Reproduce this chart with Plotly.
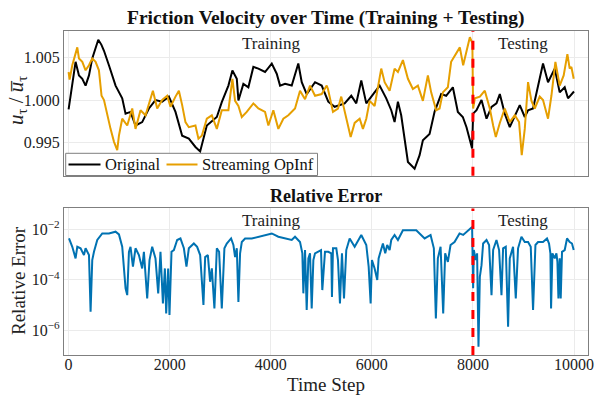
import plotly.graph_objects as go
from plotly.subplots import make_subplots

# ---------------- data ----------------
orig_steps = [0, 60, 138, 205, 271, 336, 403, 468, 587, 650, 700, 798, 929, 1061, 1127, 1225, 1324, 1456,
              1589, 1719, 1852, 1984, 2115, 2247, 2379, 2510, 2603, 2735, 2933, 3031, 3162, 3241, 3328, 3360,
              3458, 3557, 3656, 3755, 3887, 4020, 4118, 4184, 4283, 4415, 4545, 4613, 4711, 4876, 5008, 5138,
              5265, 5462, 5593, 5692, 5791, 5890, 5988, 6154, 6285, 6384, 6450, 6516, 6581, 6648, 6714, 6846,
              6945, 7010, 7142, 7241, 7372, 7470, 7603, 7702, 7800, 7873, 7984, 8004, 8071, 8170, 8269, 8368,
              8466, 8532, 8630, 8729, 8828, 8927, 9026, 9091, 9190, 9289, 9387, 9486, 9619, 9717, 9816, 9881,
              9980, 10000]
orig_vals = [0.9989, 1.0012, 1.0045, 1.0029, 1.0025, 1.0017, 1.0029, 1.0049, 1.0071, 1.0065, 1.0058, 1.0041,
             1.0017, 1.0002, 0.9984, 0.9986, 0.9970, 0.9974, 0.9990, 1.0000, 0.9998, 1.0004, 0.9986, 0.9958,
             0.99545, 0.99447, 0.99395, 0.9970, 0.9980, 0.99976, 1.0017, 1.00348, 1.0025, 0.99995, 1.0019,
             1.0015, 1.0039, 1.0037, 1.0033, 1.0043, 1.0031, 1.0017, 1.0019, 1.0017, 1.0043, 1.0021, 1.0007,
             1.0021, 1.0017, 0.9998, 0.9992, 0.9996, 1.0005, 0.9996, 1.0023, 0.9996, 1.0004, 1.0017, 1.0002,
             0.9988, 0.9974, 0.9998, 0.9982, 0.99545, 0.9927, 0.9919, 0.9935, 0.99525, 0.9960, 0.9986, 1.0007,
             1.0005, 1.0015, 0.9986, 0.9980, 0.9968, 0.9943, 0.9984, 0.9988, 1.0000, 0.9978, 0.9992, 0.9996,
             1.0007, 0.9984, 0.9968, 0.9982, 0.9994, 0.9980, 0.9988, 0.9990, 1.0017, 1.0043, 1.0021, 1.0037,
             1.0009, 1.0015, 1.0002, 1.0009, 1.0010]

opinf_steps = [0, 20, 73, 138, 172, 205, 271, 336, 403, 468, 534, 600, 652, 700, 765, 830, 897, 962, 996,
               1061, 1160, 1259, 1324, 1423, 1522, 1621, 1668, 1753, 1852, 1951, 2016, 2115, 2182, 2247, 2312,
               2379, 2510, 2569, 2636, 2735, 2834, 2933, 3031, 3162, 3241, 3294, 3360, 3427, 3525, 3656, 3755,
               3887, 3953, 4051, 4150, 4249, 4348, 4480, 4579, 4678, 4777, 4876, 5008, 5107, 5132, 5231, 5330,
               5395, 5494, 5581, 5660, 5759, 5824, 5890, 5957, 6055, 6186, 6253, 6352, 6450, 6516, 6615, 6714,
               6812, 6911, 7010, 7109, 7174, 7273, 7340, 7405, 7504, 7569, 7668, 7741, 7807, 7873, 7939, 7989,
               8004, 8038, 8137, 8235, 8334, 8400, 8453, 8532, 8630, 8729, 8828, 8913, 8966, 9026, 9091, 9158,
               9223, 9322, 9387, 9486, 9553, 9632, 9717, 9796, 9869, 9915, 9948, 9994]
opinf_vals = [1.0033, 1.0024, 1.0041, 1.0054, 1.0062, 1.0049, 1.0045, 1.0035, 1.0041, 1.0049, 1.0045, 1.0035,
              1.0005, 1.0000, 0.9982, 0.9966, 0.9951, 0.9941, 0.9958, 0.9978, 0.9970, 0.9990, 0.9966, 0.9988,
              0.9982, 1.0000, 1.0011, 0.9990, 1.0000, 1.0005, 0.9992, 1.0004, 1.0011, 0.9994, 0.9974, 0.9968,
              0.9970, 0.99545, 0.9958, 0.9978, 0.9982, 0.9966, 0.9988, 0.9988, 1.0025, 0.9999, 0.9993, 0.9980,
              0.9986, 0.9996, 0.9990, 0.9986, 0.9970, 0.9988, 0.9966, 0.9978, 0.9982, 0.9990, 1.0011, 1.0001,
              1.0017, 1.0005, 1.0007, 1.0017, 1.0013, 0.9986, 0.9990, 1.0004, 0.9978, 0.99565, 0.9973, 0.9978,
              0.9966, 0.9978, 0.9999, 0.9993, 1.0037, 1.0021, 1.0011, 1.0037, 1.0033, 1.0047, 1.0025, 1.0013,
              1.0017, 0.9999, 1.0029, 1.0009, 0.9988, 0.9990, 1.0009, 1.0015, 1.0045, 1.0054, 1.0062, 1.0041,
              1.0057, 1.0074, 1.0067, 0.9990, 1.0002, 1.0004, 1.0011, 0.9990, 0.9970, 0.99565, 0.9973, 0.9990,
              0.9974, 0.9982, 0.9974, 0.9935, 0.9966, 1.0021, 0.9999, 0.9990, 1.0004, 1.0000, 0.9978, 1.0005,
              1.0045, 1.0017, 1.0029, 1.0054, 1.0037, 1.0039, 1.0025]

err_steps = [8, 73, 138, 172, 237, 304, 336, 403, 435, 468, 502, 567, 666, 798, 929, 996, 1061, 1127, 1160,
             1194, 1225, 1273, 1324, 1391, 1456, 1490, 1555, 1601, 1654, 1719, 1773, 1818, 1866, 1905, 1931,
             1970, 1996, 2036, 2083, 2148, 2213, 2281, 2332, 2379, 2478, 2543, 2603, 2668, 2702, 2755, 2800,
             2834, 2885, 2933, 2978, 3031, 3083, 3130, 3215, 3261, 3294, 3328, 3360, 3393, 3427, 3492, 3625,
             3755, 3887, 4020, 4150, 4283, 4415, 4480, 4579, 4625, 4645, 4678, 4711, 4744, 4777, 4810, 4843,
             4876, 4941, 4994, 5020, 5073, 5138, 5198, 5211, 5231, 5297, 5330, 5369, 5409, 5449, 5494, 5561,
             5660, 5791, 5890, 5937, 5976, 6002, 6055, 6107, 6134, 6219, 6265, 6304, 6352, 6384, 6450, 6516,
             6615, 6714, 6879, 7045, 7162, 7227, 7267, 7306, 7360, 7412, 7451, 7504, 7557, 7636, 7735, 7807,
             7906, 7984, 8004, 8018, 8057, 8083, 8110, 8137, 8170, 8202, 8269, 8320, 8368, 8400, 8466, 8518,
             8565, 8597, 8650, 8696, 8729, 8794, 8848, 8893, 8960, 9026, 9091, 9144, 9190, 9237, 9289, 9387,
             9466, 9506, 9533, 9546, 9573, 9619, 9652, 9672, 9692, 9717, 9737, 9763, 9816, 9862, 9915, 9960,
             9994]
err_exp = [-2.36, -2.69, -3.15, -2.69, -2.75, -3.02, -2.75, -3.02, -5.27, -3.22, -2.89, -2.42, -2.16, -2.16,
           -2.09, -2.2, -2.69, -4.34, -4.61, -2.89, -2.69, -3.48, -2.75, -3.02, -3.55, -2.89, -4.74, -3.22,
           -2.69, -3.15, -4.54, -2.89, -4.94, -3.55, -5.34, -3.55, -5.4, -2.89, -2.82, -2.42, -2.36, -2.75,
           -3.48, -2.75, -2.56, -2.69, -3.02, -5.0, -3.1, -3.02, -4.08, -3.55, -5.14, -2.75, -2.89, -5.14,
           -2.75, -2.56, -2.36, -2.62, -3.1, -2.75, -4.88, -2.95, -2.5, -2.36, -2.36, -2.29, -2.22, -2.16,
           -2.29, -2.36, -2.42, -2.29, -2.5, -2.95, -4.54, -2.82, -5.2, -3.15, -2.95, -5.14, -3.22, -2.95,
           -2.89, -2.82, -4.41, -2.89, -2.89, -2.95, -4.68, -2.75, -2.75, -3.22, -4.94, -2.95, -4.74, -2.82,
           -2.36, -2.69, -2.22, -2.62, -3.48, -4.94, -3.22, -3.55, -4.01, -3.15, -2.56, -2.95, -2.62, -2.82,
           -2.42, -2.22, -2.42, -2.03, -2.03, -2.03, -2.36, -2.22, -2.75, -5.54, -3.15, -2.69, -5.34, -2.95,
           -3.29, -2.62, -2.5, -2.16, -2.22, -2.03, -1.9, -4.34, -2.82, -3.22, -2.95, -6.66, -3.88, -3.42,
           -2.56, -2.42, -2.62, -4.61, -2.82, -2.42, -2.82, -4.61, -2.75, -2.69, -5.87, -3.15, -2.69, -4.74,
           -2.75, -2.29, -2.5, -2.5, -2.69, -5.2, -2.62, -2.5, -2.5, -2.36, -2.56, -2.95, -5.14, -2.95, -3.15,
           -2.95, -3.29, -4.74, -3.15, -4.74, -2.89, -2.82, -2.36, -2.5, -2.56, -2.82]
err_vals = [10 ** e for e in err_exp]

split_step = 8000
x_ticks = [0, 2000, 4000, 6000, 8000, 10000]
x_tick_text = ["0", "2000", "4000", "6000", "8000", "10000"]
top_ticks = [0.995, 1.000, 1.005]
top_tick_text = ["0.995", "1.000", "1.005"]
err_ticks = [1e-6, 1e-4, 1e-2]
err_tick_text = ["10<sup>−6</sup>", "10<sup>−4</sup>", "10<sup>−2</sup>"]
series_names = ["Original", "Streaming OpInf"]

# ---------------- figure ----------------
FONT = "Liberation Serif"
BLACK = "#000000"
ORANGE = "#E69F00"
BLUE = "#0072B2"
RED = "#FF0000"
GRID = "#ebebeb"
FRAME = "#7f7f7f"
TXT = "#222222"

L, R, T, B, W, H = 64, 7, 31, 42, 595, 397
pw, ph = W - L - R, H - T - B


def px_x(v):
    return (v - L) / pw


def px_y(v):
    return (H - B - v) / ph


fig = make_subplots(rows=2, cols=1, shared_xaxes=False, vertical_spacing=0.1)

fig.add_trace(go.Scatter(x=orig_steps, y=orig_vals, mode="lines", name=series_names[0],
                         line=dict(color=BLACK, width=2), showlegend=False), row=1, col=1)
fig.add_trace(go.Scatter(x=opinf_steps, y=opinf_vals, mode="lines", name=series_names[1],
                         line=dict(color=ORANGE, width=2), showlegend=False), row=1, col=1)
fig.add_trace(go.Scatter(x=err_steps, y=err_vals, mode="lines", name="Relative Error",
                         line=dict(color=BLUE, width=2), showlegend=False), row=2, col=1)

top_dom = [0.553, 1.0]
bot_dom = [0.0, 0.4524]

axis_common = dict(showline=True, mirror=True, linecolor=FRAME, linewidth=1.2, automargin=False,
                   showgrid=True, gridcolor=GRID, gridwidth=1, zeroline=False, ticks="",
                   ticklabeloverflow="allow", tickfont=dict(family=FONT, size=16, color=TXT))

fig.update_xaxes(range=[-91, 10277], tickvals=x_ticks, showticklabels=False,
                 domain=[0, 1], **axis_common, row=1, col=1)
fig.update_xaxes(range=[-91, 10277], tickvals=x_ticks, ticktext=x_tick_text, domain=[0, 1],
                 ticklabelstandoff=-5, **axis_common, row=2, col=1)
fig.update_yaxes(range=[0.99107, 1.00813], tickvals=top_ticks, ticktext=top_tick_text,
                 domain=top_dom, **axis_common, row=1, col=1)
fig.update_yaxes(type="log", range=[-6.99, -1.166], tickvals=err_ticks, ticktext=err_tick_text,
                 domain=bot_dom, **axis_common, row=2, col=1)

# split line
for r in (1, 2):
    fig.add_vline(x=split_step, line=dict(color=RED, width=3, dash="dash"), row=r, col=1)

# region labels
for xref, yref in (("x", "y domain"), ("x2", "y2 domain")):
    fig.add_annotation(x=4000, y=0.915, xref=xref, yref=yref, text="Training", showarrow=False,
                       yanchor="middle", font=dict(family=FONT, size=17, color=TXT))
    fig.add_annotation(x=9000, y=0.915, xref=xref, yref=yref, text="Testing", showarrow=False,
                       yanchor="middle", font=dict(family=FONT, size=17, color=TXT))

# subplot titles
fig.add_annotation(x=0.5, y=1.0, xref="paper", yref="paper", yanchor="bottom", yshift=0,
                   text="<b>Friction Velocity over Time (Training + Testing)</b>", showarrow=False,
                   font=dict(family=FONT, size=19.5, color="#111"))
fig.add_annotation(x=0.5, y=bot_dom[1], xref="paper", yref="paper", yanchor="bottom", yshift=0,
                   text="<b>Relative Error</b>", showarrow=False,
                   font=dict(family=FONT, size=18, color="#111"))

# axis titles placed as annotations
fig.add_annotation(x=px_x(17), y=px_y(101), xref="paper", yref="paper", showarrow=False, textangle=-90,
                   xanchor="center", yanchor="middle",
                   text="<i>u</i><sub>τ</sub> / <i>u̅</i><sub>τ</sub>",
                   font=dict(family=FONT, size=21, color=TXT))
fig.add_annotation(x=px_x(18), y=px_y(281), xref="paper", yref="paper", showarrow=False, textangle=-90,
                   xanchor="center", yanchor="middle",
                   text="Relative Error", font=dict(family=FONT, size=19, color=TXT))
fig.add_annotation(x=px_x(326), y=px_y(384), xref="paper", yref="paper", showarrow=False,
                   xanchor="center", yanchor="middle",
                   text="Time Step", font=dict(family=FONT, size=19, color=TXT))

# compact legend box (bottom-left of the top panel)
fig.add_shape(type="rect", xref="paper", yref="paper", x0=px_x(65.7), x1=px_x(317.5),
              y0=px_y(175.5), y1=px_y(153.3), fillcolor="white", line=dict(color=FRAME, width=1))
leg_y = px_y(164.5)
for (lx0, lx1, tx, col, name) in ((68.5, 100.5, 103, BLACK, series_names[0]),
                                  (166.5, 197.5, 199.5, ORANGE, series_names[1])):
    fig.add_shape(type="line", xref="paper", yref="paper", x0=px_x(lx0), x1=px_x(lx1),
                  y0=leg_y, y1=leg_y, line=dict(color=col, width=2))
    fig.add_annotation(x=px_x(tx), y=leg_y, xref="paper", yref="paper", showarrow=False,
                       xanchor="left", yanchor="middle", text=name,
                       font=dict(family=FONT, size=16.5, color="#111"))

fig.update_layout(
    width=W, height=H,
    margin=dict(l=L, r=R, t=T, b=B, autoexpand=False),
    paper_bgcolor="white", plot_bgcolor="white",
    font=dict(family=FONT, color=TXT),
    showlegend=False,
)

fig.write_html("out.html", config={"displayModeBar": False},
               post_script="document.body.style.margin='0';document.body.style.overflow='hidden';")
